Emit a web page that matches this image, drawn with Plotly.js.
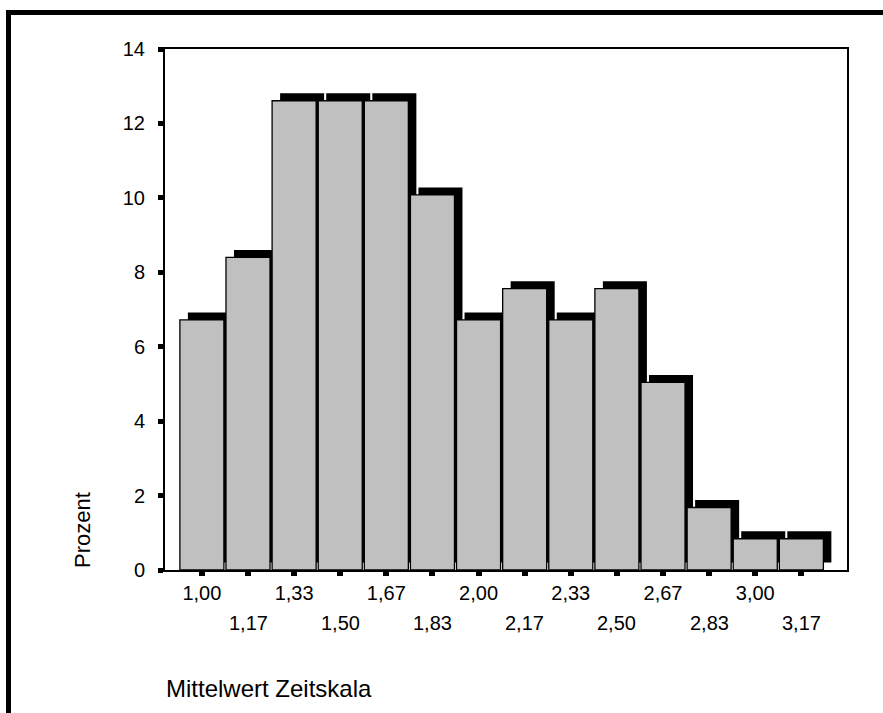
<!DOCTYPE html>
<html>
<head>
<meta charset="utf-8">
<script src="https://cdn.plot.ly/plotly-3.0.1.min.js"></script>
<style>html,body{margin:0;padding:0;background:#fff;}#chart{width:883px;height:713px;}</style>
</head>
<body>
<div id="chart"></div>
<script>
// Bin labels (Mittelwert Zeitskala) and percentages
const binLabels = ["1,00","1,17","1,33","1,50","1,67","1,83","2,00","2,17","2,33","2,50","2,67","2,83","3,00","3,17"];
const percent   = [6.72, 8.40, 12.61, 12.61, 12.61, 10.08, 6.72, 7.56, 6.72, 7.56, 5.04, 1.68, 0.84, 0.84];
const yTicks    = [0, 2, 4, 6, 8, 10, 12, 14];
const xTitle = "Mittelwert Zeitskala";
const yTitle = "Prozent";

const W = 883, H = 713;
const M = {l: 165, r: 36, t: 49, b: 143};
const plotW = W - M.l - M.r, plotH = H - M.t - M.b;
const xRange = [-0.8, 13.99], yRange = [0, 14];
const pxPerX = plotW / (xRange[1] - xRange[0]);
const pxPerY = plotH / (yRange[1] - yRange[0]);
const shadowDx = 8 / pxPerX, shadowDy = 7.5 / pxPerY;
const barW = 0.955;

const idx = binLabels.map((_, i) => i);
const FONT = "Liberation Sans, Arial, sans-serif";
const TICK = 20;

const shadow = {
  type: 'bar', x: idx.map(i => i + shadowDx), y: percent, base: percent.map(() => shadowDy),
  width: barW, marker: {color: '#000000', line: {width: 0}}, hoverinfo: 'skip', showlegend: false
};
const bars = {
  type: 'bar', x: idx, y: percent, width: barW,
  marker: {color: '#c0c0c0', line: {color: '#000000', width: 1.3}}, hoverinfo: 'skip', showlegend: false
};

const annotations = [];
idx.forEach(i => {
  if (i % 2 === 1) {
    annotations.push({xref: 'x', yref: 'paper', x: i, y: 0, yshift: -53, xanchor: 'center', yanchor: 'middle',
      text: binLabels[i], showarrow: false, font: {family: FONT, size: TICK, color: '#000'}});
  }
});
annotations.push({xref: 'paper', yref: 'paper', x: 0, y: 0, xshift: -1, yshift: -118, xanchor: 'left', yanchor: 'middle',
  text: xTitle, showarrow: false, font: {family: FONT, size: 24, color: '#000'}});
annotations.push({xref: 'paper', yref: 'paper', x: 0, y: 0, xshift: -83, yshift: 40, xanchor: 'center', yanchor: 'middle',
  textangle: -90, text: yTitle, showarrow: false, font: {family: FONT, size: 22, color: '#000'}});

const px2paperX = p => (p - M.l) / plotW;
const px2paperY = p => (H - M.b - p) / plotH;

const layout = {
  width: W, height: H,
  margin: M,
  paper_bgcolor: '#ffffff', plot_bgcolor: '#ffffff',
  barmode: 'overlay',
  font: {family: FONT, size: TICK, color: '#000'},
  xaxis: {
    range: xRange, tickmode: 'array',
    tickvals: idx, ticktext: idx.map(i => i % 2 === 0 ? binLabels[i] : ''),
    ticks: 'outside', ticklen: 4, tickwidth: 6, tickcolor: '#000',
    showline: true, linecolor: '#000', linewidth: 2, mirror: true,
    showgrid: false, zeroline: false, fixedrange: true,
    tickfont: {family: FONT, size: TICK, color: '#000'}
  },
  yaxis: {
    range: yRange, tickmode: 'array', tickvals: yTicks, ticktext: yTicks.map(String),
    ticks: 'outside', ticklen: 5, tickwidth: 5, tickcolor: '#000',
    showline: true, linecolor: '#000', linewidth: 2, mirror: true,
    showgrid: false, zeroline: false, fixedrange: true, ticklabelstandoff: 9,
    tickfont: {family: FONT, size: TICK, color: '#000'}
  },
  annotations: annotations,
  shapes: [{
    type: 'rect', xref: 'paper', yref: 'paper',
    x0: px2paperX(8.5), x1: px2paperX(W + 20), y0: px2paperY(H + 20), y1: px2paperY(12.5),
    line: {color: '#000', width: 5}, fillcolor: 'rgba(0,0,0,0)', layer: 'above'
  }]
};

Plotly.newPlot('chart', [shadow, bars], layout, {staticPlot: true, displayModeBar: false});
</script>
</body>
</html>
